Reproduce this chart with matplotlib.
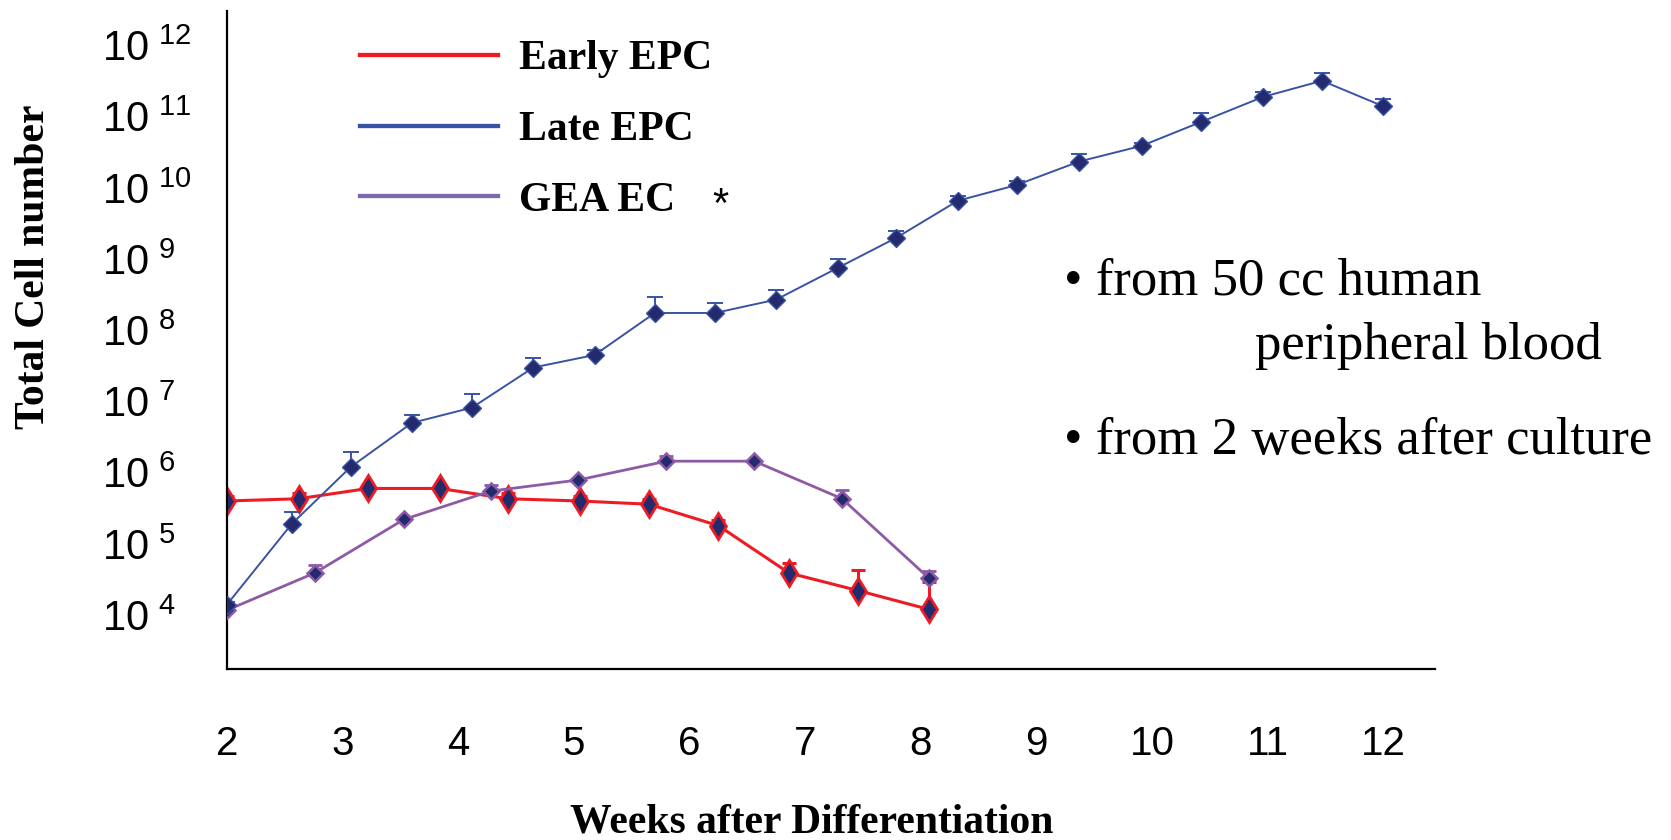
import numpy as np
import matplotlib.pyplot as plt
from matplotlib.lines import Line2D
from matplotlib.ticker import NullLocator

# weeks after differentiation
early_weeks = [2.0, 2.62, 3.22, 3.84, 4.43, 5.05, 5.65, 6.25, 6.86, 7.46, 8.07]
late_weeks = [2.0, 2.56, 3.07, 3.60, 4.12, 4.65, 5.18, 5.70, 6.22, 6.75,
              7.28, 7.79, 8.32, 8.83, 9.37, 9.91, 10.42, 10.96, 11.47, 12.0]
gea_weeks = [2.0, 2.76, 3.53, 4.28, 5.04, 5.80, 6.56, 7.32, 8.07]

# total cell number and upper error (SD)
early = [4.0e5, 4.3e5, 6.0e5, 6.0e5, 4.3e5, 4.0e5, 3.6e5, 1.8e5, 3.9e4, 2.2e4, 1.2e4]
early_err = [7.6e4, 8.7e4, 4.2e4, 4.2e4, 8.7e4, 7.6e4, 7.3e4, 3.6e4, 1.4e4, 2.1e4, 1.75e4]

late = [1.4e4, 1.9e5, 1.2e6, 5.0e6, 8.2e6, 3.0e7, 4.5e7, 1.75e8, 1.75e8, 2.7e8,
        7.5e8, 2.0e9, 6.6e9, 1.1e10, 2.35e10, 3.9e10, 8.4e10, 1.9e11, 3.2e11, 1.4e11]
late_err = [1.0e3, 9.3e4, 7.5e5, 1.4e6, 4.4e6, 1.1e7, 7.9e6, 1.2e8, 6.7e7, 9.4e7,
            2.6e8, 5.2e8, 1.1e9, 1.6e9, 6.1e9, 3.7e9, 2.9e10, 3.3e10, 9.2e10, 3.6e10]

gea = [1.17e4, 3.9e4, 2.2e5, 5.5e5, 7.9e5, 1.45e6, 1.45e6, 4.3e5, 3.3e4]
gea_err = [0, 1.2e4, 0, 1.3e5, 0, 2.5e5, 0, 1.45e5, 8e3]

labels = ['Early EPC', 'Late EPC', 'GEA EC']
y_exps = [4, 5, 6, 7, 8, 9, 10, 11, 12]
week_ticks = [2, 3, 4, 5, 6, 7, 8, 9, 10, 11, 12]

red = '#ed1c24'
blue = '#3953a4'
purple = '#8e5aa5'
navy = '#232a6e'

serif = 'Liberation Serif'
sans = 'Liberation Sans'


def draw(ax, weeks, vals, err, color, marker, ms, mew, lw, cap, z):
    weeks = np.array(weeks)
    vals = np.array(vals)
    err = np.array(err)
    has = err > 0
    top = vals + err
    # upper error bar only, with a cap
    ax.vlines(weeks[has], vals[has], top[has], color=color, lw=lw, zorder=z)
    ax.plot(weeks[has], top[has], ls='none', marker='_', ms=cap, mew=lw,
            color=color, zorder=z)
    ax.plot(weeks, vals, color=color, lw=lw, marker=marker, ms=ms,
            mfc=navy, mec=color, mew=mew, zorder=z + 0.5)


fig = plt.figure(figsize=(16.71, 8.40), dpi=100)
ax = fig.add_axes([0.1358, 0.2030, 0.7232, 0.7843])
ax.set_yscale('log')

draw(ax, early_weeks, early, early_err, red, 'd', 13, 2.0, 2.2, 10, 2)
draw(ax, gea_weeks, gea, gea_err, purple, 'D', 8.5, 1.8, 2.0, 10, 3)
draw(ax, late_weeks, late, late_err, blue, 'D', 9.5, 1.0, 1.4, 12, 4)

ax.set_xlim(2, 12.45)
ax.set_ylim(10 ** 3.235, 10 ** 12.49)

ax.spines['top'].set_visible(False)
ax.spines['right'].set_visible(False)
ax.spines['left'].set_linewidth(1.6)
ax.spines['bottom'].set_linewidth(1.6)

ax.set_yticks([10.0 ** k for k in y_exps])
ax.set_yticklabels([r'$\mathregular{10^{\ %d}}$' % k for k in y_exps],
                   fontsize=30, family=sans)
ax.yaxis.set_minor_locator(NullLocator())
ax.tick_params(axis='y', length=0, pad=90)
for t in ax.get_yticklabels():
    t.set_horizontalalignment('left')

ax.set_xticks(week_ticks)
ax.set_xticklabels([str(w) for w in week_ticks], fontsize=29, family=sans)
ax.tick_params(axis='x', length=0, pad=40)

ax.set_ylabel('Total Cell number', fontsize=30, fontweight='bold', family=serif)
ax.yaxis.set_label_coords(-0.1596, 0.612)
ax.yaxis.label.set_va('center')
ax.set_xlabel('Weeks after Differentiation', fontsize=30, fontweight='bold', family=serif)
ax.xaxis.set_label_coords(0.484, -0.233)
ax.xaxis.label.set_va('center')

handles = [Line2D([], [], color=red, lw=3.1),
           Line2D([], [], color=blue, lw=3.1),
           Line2D([], [], color='#7f69ad', lw=3.1)]
leg = fig.legend(handles, labels, loc='upper left', bbox_to_anchor=(0.2156, 0.952),
                 frameon=False, borderpad=0, borderaxespad=0, handlelength=3.3,
                 handletextpad=0.5, labelspacing=0.78,
                 prop={'family': serif, 'weight': 'bold', 'size': 30})

# the star after "GEA EC" is a plain (not bold) sign
fig.text(0.4265, 0.755, '*', fontsize=30, family=sans, va='center')

fig.text(0.6365, 0.6497, '\u2022 from 50 cc human', fontsize=38, family=serif, va='baseline')
fig.text(0.7513, 0.5723, 'peripheral blood', fontsize=38, family=serif, va='baseline')
fig.text(0.6365, 0.4594, '\u2022 from 2 weeks after culture', fontsize=38, family=serif, va='baseline')

fig.savefig('out.png', dpi=100)
